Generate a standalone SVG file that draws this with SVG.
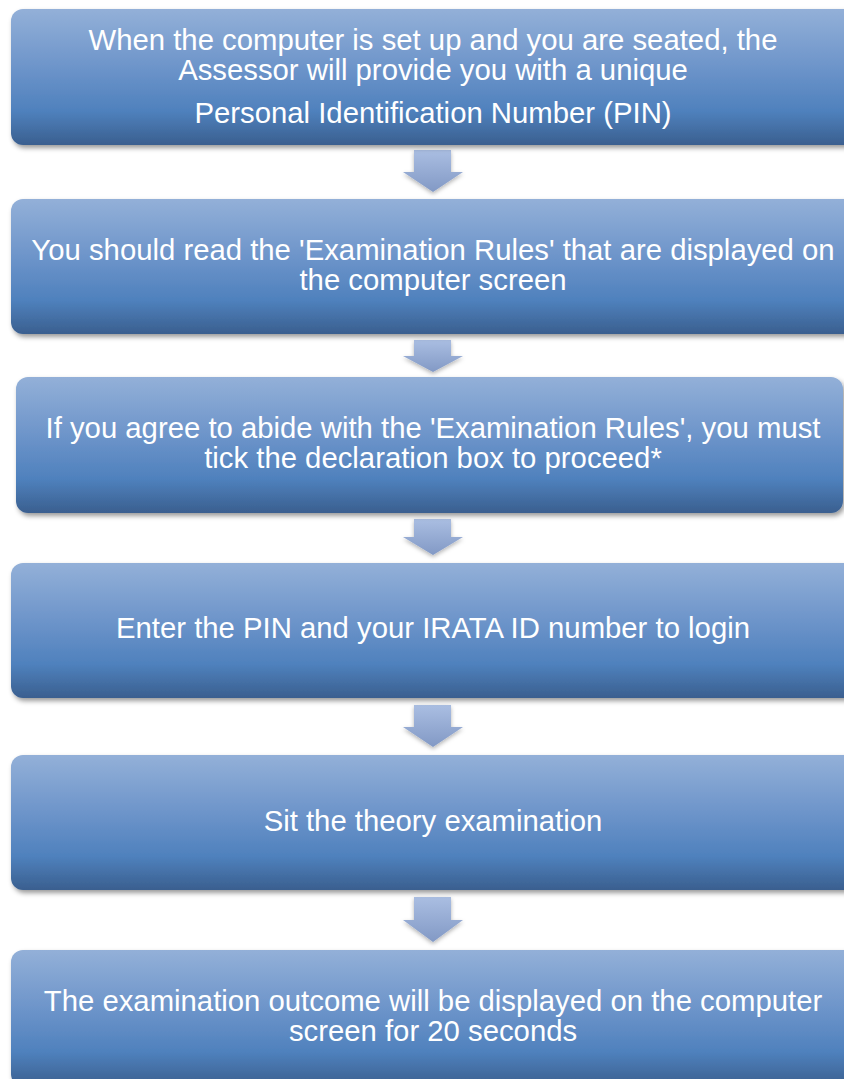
<svg xmlns="http://www.w3.org/2000/svg" width="844" height="1079" viewBox="0 0 844 1079">
  <defs>
    <linearGradient id="boxGrad" x1="0" y1="0" x2="0" y2="1">
      <stop offset="0" stop-color="#93b0d8"/>
      <stop offset="0.45" stop-color="#6b93c9"/>
      <stop offset="0.75" stop-color="#4f81bd"/>
      <stop offset="1" stop-color="#3a5f8f"/>
    </linearGradient>
    <linearGradient id="arrowGrad" x1="0" y1="0" x2="0" y2="1">
      <stop offset="0" stop-color="#aabee2"/>
      <stop offset="1" stop-color="#8299c5"/>
    </linearGradient>
    <filter id="shadow" x="-5%" y="-10%" width="115%" height="130%">
      <feDropShadow dx="2" dy="3" stdDeviation="2.5" flood-color="#000" flood-opacity="0.4"/>
    </filter>
    <filter id="ashadow" x="-20%" y="-20%" width="140%" height="150%">
      <feDropShadow dx="0" dy="2" stdDeviation="2" flood-color="#000" flood-opacity="0.3"/>
    </filter>
  </defs>
  <style>
    .box { fill: url(#boxGrad); filter: url(#shadow); }
    .arrow { fill: url(#arrowGrad); filter: url(#ashadow); }
    .label { font-family: "Liberation Sans", Arial, sans-serif; font-size: 29.3px; fill: #ffffff; text-anchor: middle; }
  </style>
  <rect width="844" height="1079" fill="#ffffff"/>

  <g id="connectors">
    <path class="arrow" d="M414,150 H451 V172 H463 L433,192 L403,172 H414 Z"/>
    <path class="arrow" d="M414,340 H451 V356 H463 L433,372 L403,356 H414 Z"/>
    <path class="arrow" d="M414,519 H451 V537 H463 L433,555 L403,537 H414 Z"/>
    <path class="arrow" d="M414,705 H451 V727 H463 L433,747 L403,727 H414 Z"/>
    <path class="arrow" d="M414,897 H451 V920 H463 L433,942 L403,920 H414 Z"/>
  </g>

  <g id="node1">
    <rect class="box" x="11" y="9" width="850" height="136" rx="12"/>
    <text class="label" x="433" y="50">When the computer is set up and you are seated, the</text>
    <text class="label" x="433" y="80">Assessor will provide you with a unique</text>
    <text class="label" x="433" y="123">Personal Identification Number (PIN)</text>
  </g>

  <g id="node2">
    <rect class="box" x="11" y="199" width="850" height="135" rx="12"/>
    <text class="label" x="433" y="260">You should read the 'Examination Rules' that are displayed on</text>
    <text class="label" x="433" y="290">the computer screen</text>
  </g>

  <g id="node3">
    <rect class="box" x="16" y="377" width="827" height="136" rx="12"/>
    <text class="label" x="433" y="438">If you agree to abide with the 'Examination Rules', you must</text>
    <text class="label" x="433" y="468">tick the declaration box to proceed*</text>
  </g>

  <g id="node4">
    <rect class="box" x="11" y="563" width="850" height="135" rx="12"/>
    <text class="label" x="433" y="638">Enter the PIN and your IRATA ID number to login</text>
  </g>

  <g id="node5">
    <rect class="box" x="11" y="755" width="850" height="135" rx="12"/>
    <text class="label" x="433" y="831">Sit the theory examination</text>
  </g>

  <g id="node6">
    <rect class="box" x="11" y="950" width="850" height="136" rx="12"/>
    <text class="label" x="433" y="1011">The examination outcome will be displayed on the computer</text>
    <text class="label" x="433" y="1041">screen for 20 seconds</text>
  </g>
</svg>
